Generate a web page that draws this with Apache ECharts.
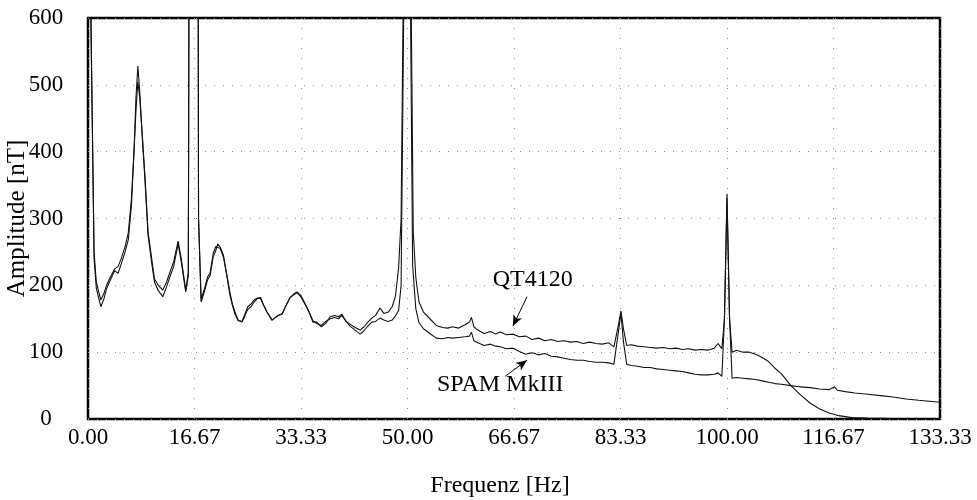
<!DOCTYPE html>
<html>
<head>
<meta charset="utf-8">
<script src="https://cdn.jsdelivr.net/npm/echarts@6/dist/echarts.min.js"></script>
<style>
html,body{margin:0;padding:0;background:#fff;}
#chart{width:977px;height:500px;}
</style>
</head>
<body>
<div id="chart"></div>
<script>
// ---- data ----
var qtFreq = [0,0.5,0.95,1.3,2.0,2.5,2.9,3.5,4.2,4.7,5.2,5.8,6.3,6.8,7.2,7.5,7.8,8.1,8.5,8.9,9.4,9.9,10.4,11.0,11.7,12.3,12.9,13.4,14.1,14.6,15.3,15.7,16.0,17.1,17.3,17.7,18.2,18.7,19.1,19.6,20.0,20.3,20.7,21.2,21.8,22.2,22.6,23.0,23.5,24.1,24.6,25.0,25.5,26.0,26.5,27.0,27.4,28.0,28.8,29.6,30.4,31.0,31.6,32.2,32.7,33.3,34.0,34.6,35.2,35.8,36.5,37.2,37.9,38.6,39.2,39.7,40.4,41.0,41.8,42.6,43.2,43.7,44.4,45.0,45.7,46.3,47.0,47.6,48.1,48.6,49.0,49.4,50.0,50.5,50.9,51.3,51.8,52.5,53.5,54.5,55.5,56.3,57.0,58.0,59.0,59.7,60.0,60.4,61.0,62.0,63.0,63.8,64.5,65.5,66.5,67.5,68.5,69.5,70.5,71.5,72.5,73.5,74.5,75.5,76.5,77.5,78.5,79.5,80.5,81.5,82.3,83.0,83.4,83.8,84.3,85.0,86.0,87.0,88.0,89.0,90.0,91.0,92.0,93.0,94.0,95.0,96.0,97.0,98.0,98.6,99.2,99.6,100.0,100.4,100.8,101.5,102.5,103.5,104.5,105.5,106.5,107.5,108.5,110.0,111.5,113.0,114.5,116.0,117.5,119.5,122.0,125.0];
var qtAmp = [1000,560,240,196,168,180,195,208,222,218,232,250,268,320,400,480,528,490,420,360,275,238,205,192,183,198,215,228,262,235,190,215,1500,1500,300,175,190,208,214,243,252,262,257,245,212,190,172,160,148,145,155,164,168,175,180,182,172,160,148,154,158,170,182,186,189,183,171,160,145,145,138,143,153,155,153,157,146,142,137,133,138,144,151,155,166,158,160,168,183,225,300,700,2000,700,280,212,175,160,150,140,137,136,138,136,141,145,152,138,133,128,131,127,130,126,127,123,124,119,121,117,119,116,117,115,116,113,115,113,112,114,108,140,162,135,110,111,109,108,107,106,107,105,106,104,105,103,104,103,106,113,105,150,337,150,100,103,100,100,97,92,86,76,68,50,36,24,15,9,5,2,1.5,1];
var spamFreq = [0,0.5,0.95,1.3,2.0,2.5,2.9,3.5,4.2,4.7,5.2,5.8,6.3,6.8,7.2,7.5,7.8,8.1,8.5,8.9,9.4,9.9,10.4,11.0,11.7,12.3,12.9,13.4,14.1,14.6,15.3,15.7,16.0,17.1,17.3,17.7,18.2,18.7,19.1,19.6,20.0,20.3,20.7,21.2,21.8,22.2,22.6,23.0,23.5,24.1,24.6,25.0,25.5,26.0,26.5,27.0,27.4,28.0,28.8,29.6,30.4,31.0,31.6,32.2,32.7,33.3,34.0,34.6,35.2,35.8,36.5,37.2,37.9,38.6,39.2,39.7,40.4,41.0,41.8,42.6,43.2,43.7,44.4,45.0,45.7,46.3,47.0,47.6,48.1,48.6,49.0,49.5,50.0,50.4,50.8,51.3,51.8,52.5,53.5,54.5,55.5,56.3,57.0,58.0,59.0,59.7,60.0,60.4,61.0,62.0,63.0,63.8,64.5,65.5,66.5,67.5,68.5,69.5,70.5,71.5,72.5,73.5,74.5,75.5,76.5,77.5,78.5,79.5,80.5,81.5,82.3,83.0,83.4,83.8,84.3,85.0,86.0,87.0,88.0,89.0,90.0,91.0,92.0,93.0,94.0,95.0,96.0,97.0,98.0,98.6,99.2,99.6,100.0,100.4,100.8,101.5,102.5,103.5,104.5,105.5,106.5,107.5,108.5,110.0,111.5,113.0,114.5,116.0,116.8,117.3,118.5,120.0,122.0,124.0,126.0,128.0,130.0,133.33];
var spamAmp = [1000,570,250,205,178,188,200,212,225,228,240,258,278,330,400,460,505,480,425,365,280,245,210,200,193,205,222,235,266,240,192,220,1500,1500,300,180,194,212,218,248,258,258,255,242,210,186,170,157,147,146,158,168,172,178,181,180,172,160,148,154,157,170,181,187,190,185,172,160,147,143,140,146,150,152,150,155,146,139,133,127,132,138,145,146,151,148,146,148,154,162,200,700,2000,700,230,165,144,135,128,121,120,122,121,122,123,124,130,117,114,110,112,109,108,105,106,101,97,99,96,98,94,93,91,89,88,88,86,85,85,84,82,130,158,115,82,80,79,77,77,75,74,73,72,71,69,67,66,66,67,69,64,150,330,150,61,62,61,60,59,57,55,53,52,50,48,47,45,44,48,43,41,39,37,35,33,30,28,25];
var yTicks = [0,100,200,300,400,500,600];
var xTicks = [0,16.67,33.33,50.00,66.67,83.33,100.00,116.67,133.33];
var seriesNames = ['QT4120','SPAM MkIII'];
// annotation text anchors and arrows, in data units [Hz, nT]
var labelQT = [69.6, 209];
var labelSPAM = [64.5, 51];
var arrowQT = [[68.7, 183], [66.5, 139]];
var arrowSPAM = [[65.3, 64], [68.7, 88]];

function pairs(f, a){ var out=[]; for(var i=0;i<f.length;i++){ out.push([f[i], a[i]]); } return out; }

var FONT = '"Liberation Serif","Times New Roman",serif';
var chart = echarts.init(document.getElementById('chart'), null, {renderer:'canvas'});
var xInterval = 50/3;
var option = {
  animation: false,
  backgroundColor: '#fff',
  grid: {left: 88, right: 37, top: 18, bottom: 81, show: true, borderColor: '#000', borderWidth: 2.5,
    backgroundColor: 'transparent', containLabel: false, outerBoundsMode: 'none'},
  xAxis: {
    type: 'value', min: 0, max: 400/3, interval: xInterval,
    axisLine: {show: false}, axisTick: {show: false},
    axisLabel: {color: '#000', fontFamily: FONT, fontSize: 23, margin: 7,
      formatter: function(v){ return (Math.round(v/xInterval)*xInterval).toFixed(2); }},
    splitLine: {show: true, lineStyle: {color: '#888', width: 1, type: [1, 9]}},
    name: 'Frequenz [Hz]', nameLocation: 'middle', nameGap: 55, nameMoveOverlap: false,
    nameTextStyle: {color: '#000', fontFamily: FONT, fontSize: 24, padding: [0, 28, 0, 0]}
  },
  yAxis: {
    type: 'value', min: 0, max: 600, interval: 100,
    axisLine: {show: false}, axisTick: {show: false},
    axisLabel: {color: '#000', fontFamily: FONT, fontSize: 23, margin: 42, align: 'center'},
    splitLine: {show: true, lineStyle: {color: '#888', width: 1, type: [1, 8]}},
    name: 'Amplitude [nT]', nameLocation: 'middle', nameGap: 58, nameMoveOverlap: false,
    nameTextStyle: {color: '#000', fontFamily: FONT, fontSize: 25}
  },
  series: [
    {
      name: seriesNames[0], type: 'line', data: pairs(qtFreq, qtAmp), showSymbol: false, symbol: 'none',
      clip: true, lineStyle: {color: '#111', width: 1.1}, silent: true,
      markPoint: {
        symbol: 'rect', symbolSize: 1, itemStyle: {color: 'rgba(0,0,0,0)'}, silent: true,
        label: {show: true, position: 'inside', color: '#000', fontFamily: FONT, fontSize: 24, formatter: '{b}'},
        data: [{name: seriesNames[0], coord: labelQT}]
      },
      markLine: {
        silent: true, symbol: ['none', 'arrow'], symbolSize: [7, 11], label: {show: false},
        lineStyle: {color: '#000', width: 1, type: 'solid'},
        data: [[{coord: arrowQT[0]}, {coord: arrowQT[1]}]]
      }
    },
    {
      name: seriesNames[1], type: 'line', data: pairs(spamFreq, spamAmp), showSymbol: false, symbol: 'none',
      clip: true, lineStyle: {color: '#111', width: 1.1}, silent: true,
      markPoint: {
        symbol: 'rect', symbolSize: 1, itemStyle: {color: 'rgba(0,0,0,0)'}, silent: true,
        label: {show: true, position: 'inside', color: '#000', fontFamily: FONT, fontSize: 24, formatter: '{b}'},
        data: [{name: seriesNames[1], coord: labelSPAM}]
      },
      markLine: {
        silent: true, symbol: ['none', 'arrow'], symbolSize: [7, 11], label: {show: false},
        lineStyle: {color: '#000', width: 1, type: 'solid'},
        data: [[{coord: arrowSPAM[0]}, {coord: arrowSPAM[1]}]]
      }
    }
  ]
};
chart.setOption(option);
</script>
</body>
</html>
